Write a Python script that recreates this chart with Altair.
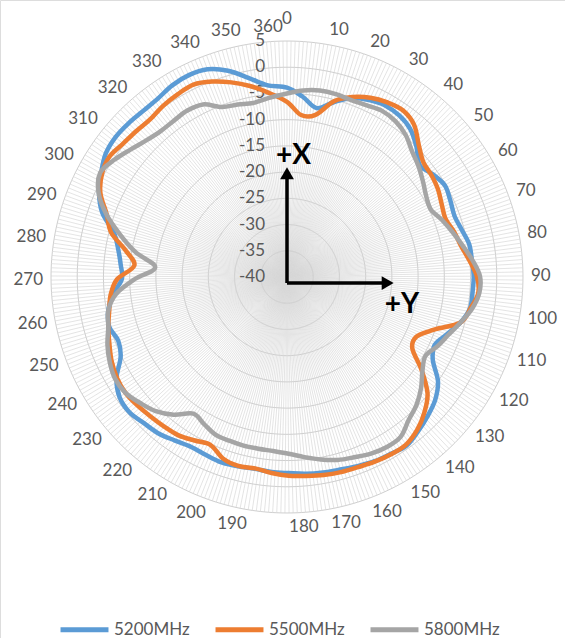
import altair as alt
import numpy as np
import pandas as pd

# ---- data -------------------------------------------------------------
N_CATS = 361                      # categories 0..360 around the radar
angles = list(range(0, 360, 5))   # sampled category positions

s5200 = [-3.9, -5.5, -7.3, -5.5, -3.7, -2.8, -2.3, -2.5, -3.3, -5.0,
         -6.9, -6.0, -5.2, -5.6, -6.0, -5.5, -4.7, -4.6, -4.4, -4.5,
         -4.6, -5.8, -7.6, -9.0, -8.0, -5.0, -3.3, -2.3, -1.4, -0.6,
         -0.9, -1.1, -1.5, -1.9, -2.1, -2.3, -2.6, -2.7, -2.9, -2.7,
         -2.5, -2.7, -2.8, -2.2, -1.4, -1.0, -0.4, -0.7, -2.2, -4.8,
         -5.6, -4.8, -5.3, -6.6, -8.5, -8.2, -7.4, -6.0, -2.7, -0.7,
         0.6, 1.8, 2.2, 2.1, 1.9, 2.0, 2.6, 2.8, 2.4, 0.9,
         -1.3, -3.2]

s5500 = [-6.6, -9.0, -8.6, -5.3, -3.5, -2.3, -1.6, -1.3, -2.2, -4.4,
         -6.0, -6.3, -6.7, -7.4, -7.8, -7.0, -6.3, -5.1, -3.8, -3.4,
         -4.5, -5.8, -10.2, -12.8, -12.5, -8.8, -5.2, -3.2, -1.7, -0.8,
         -0.8, -1.0, -1.3, -1.4, -1.6, -1.9, -2.1, -2.5, -3.0, -2.8,
         -3.3, -4.8, -4.2, -3.4, -3.1, -2.8, -2.4, -2.1, -2.3, -2.9,
         -3.8, -4.6, -5.5, -6.2, -7.6, -10.8, -8.9, -5.4, -3.6, -1.0,
         0.4, 0.9, 0.3, 0.0, -0.2, 0.3, 0.6, 0.8, -0.1, -1.4,
         -2.9, -4.6]

s5800 = [-5.0, -4.3, -3.9, -3.9, -4.1, -3.9, -3.5, -3.8, -4.7, -6.2,
         -7.2, -8.3, -9.3, -9.7, -8.5, -7.3, -6.0, -4.5, -3.2, -3.2,
         -4.2, -5.8, -7.3, -8.4, -9.6, -8.6, -6.8, -5.3, -4.2, -2.6,
         -2.4, -2.7, -3.3, -3.8, -4.6, -5.5, -6.3, -6.7, -6.8, -6.8,
         -6.9, -7.0, -7.8, -8.4, -6.0, -4.2, -3.1, -2.1, -1.9, -2.5,
         -3.4, -4.6, -5.3, -7.2, -11.0, -14.8, -10.8, -7.2, -3.5, -0.6,
         0.8, -0.2, -1.5, -2.6, -3.2, -3.2, -3.0, -3.4, -5.3, -5.8,
         -6.2, -5.7]

series_names = ["5200MHz", "5500MHz", "5800MHz"]
series_colors = ["#5B9BD5", "#ED7D31", "#A5A5A5"]

radial_ticks = [-40, -35, -30, -25, -20, -15, -10, -5, 0, 5]
ring_values = radial_ticks[1:]
angle_ticks = list(range(0, 361, 10))

# axis annotations: arrow corner / tips in radar units, and their captions
arrow_corner = (0.0, -1.15)
arrow_tips = [(0.0, 19.8), (19.2, -1.15)]
arrow_captions = [("+X", 1.25, 23.0), ("+Y", 21.9, -5.4)]

# ---- layout -----------------------------------------------------------
W, H = 565, 638
CX, CY = 287, 277          # pixel position of the radar centre
PX = 5.244                 # pixels per dB
R_MIN = -40
LABEL_R = 244 / PX
LABEL_LIFT = 6.5 / PX
TOP_LABEL_R = 258 / PX
FONT = "Lato"
TXT = "#595959"
GRID = "#D9D9D9"

xs = alt.Scale(domain=[-CX / PX, (W - CX) / PX], nice=False, zero=False)
ys = alt.Scale(domain=[-(H - CY) / PX, CY / PX], nice=False, zero=False)

THETA = f"datum.cat * 2 * PI / {N_CATS}"


def X(field):
    return alt.X(f"{field}:Q", scale=xs, axis=None)


def Y(field):
    return alt.Y(f"{field}:Q", scale=ys, axis=None)


# spokes
spoke_df = pd.DataFrame({"cat": np.arange(N_CATS)})
spokes = alt.Chart(spoke_df).transform_calculate(
    x0="0", y0="0",
    x1=f"{5 - R_MIN} * sin({THETA})",
    y1=f"{5 - R_MIN} * cos({THETA})",
).mark_rule(color=GRID, strokeWidth=0.7).encode(
    x=X("x0"), y=Y("y0"), x2="x1:Q", y2="y1:Q"
)

# rings
ring_df = pd.DataFrame(
    [(v, c) for v in ring_values for c in range(N_CATS)], columns=["ring", "cat"]
)
rings = alt.Chart(ring_df).transform_calculate(
    px=f"(datum.ring - {R_MIN}) * sin({THETA})",
    py=f"(datum.ring - {R_MIN}) * cos({THETA})",
).mark_line(interpolate="linear-closed", color="#CFCFCF", strokeWidth=1).encode(
    x=X("px"), y=Y("py"), detail="ring:N", order="cat:Q"
)

# series
rows = []
for name, vals in zip(series_names, [s5200, s5500, s5800]):
    for c, v in zip(angles, vals):
        rows.append({"series": name, "cat": c, "value": v})
line_df = pd.DataFrame(rows)

lines = alt.Chart(line_df).transform_calculate(
    px=f"(datum.value - {R_MIN}) * sin({THETA})",
    py=f"(datum.value - {R_MIN}) * cos({THETA})",
).mark_line(interpolate="cardinal-closed", strokeWidth=4.5).encode(
    x=X("px"),
    y=Y("py"),
    order="cat:Q",
    color=alt.Color(
        "series:N",
        scale=alt.Scale(domain=series_names, range=series_colors),
        legend=alt.Legend(
            title=None,
            orient="none",
            legendX=58,
            legendY=603,
            direction="horizontal",
            symbolType="stroke",
            symbolSize=2300,
            symbolStrokeWidth=5,
            labelFont=FONT,
            labelFontSize=17,
            labelColor=TXT,
            labelOffset=3,
            columnPadding=15,
        ),
    ),
)

# angle labels
ang_df = pd.DataFrame({"cat": angle_ticks, "label": [str(a) for a in angle_ticks]})
ang_base = alt.Chart(ang_df).transform_calculate(
    s=f"sin({THETA})",
    c=f"cos({THETA})",
)


def ang_layer(cond, align, r_x, r_y):
    return ang_base.transform_filter(cond).transform_calculate(
        px=f"{r_x} * datum.s",
        py=f"{r_y} * datum.c",
    ).mark_text(
        align=align, baseline="middle", font=FONT, fontSize=17, color=TXT
    ).encode(x=X("px"), y=Y("py"), text="label:N")


ang_right = ang_layer("datum.s > 1e-9", "left", LABEL_R, LABEL_R + LABEL_LIFT)
ang_left = ang_layer("datum.s < -1e-9", "right", LABEL_R, LABEL_R + LABEL_LIFT)
ang_top = ang_layer("abs(datum.s) <= 1e-9", "center", TOP_LABEL_R, TOP_LABEL_R)

# radial labels
rad_df = pd.DataFrame({"v": radial_ticks, "label": [str(v) for v in radial_ticks]})
rad_labels = alt.Chart(rad_df).transform_calculate(
    px=f"{-22 / PX}", py=f"datum.v - {R_MIN}"
).mark_text(align="right", baseline="middle", font=FONT, fontSize=17, color=TXT).encode(
    x=X("px"), y=Y("py"), text="label:N"
)

# arrows
shaft_df = pd.DataFrame(
    {"x0": [arrow_corner[0]] * 2, "y0": [arrow_corner[1]] * 2,
     "x1": [t[0] for t in arrow_tips], "y1": [t[1] for t in arrow_tips]}
)
shafts = alt.Chart(shaft_df).mark_rule(color="black", strokeWidth=3.5).encode(
    x=X("x0"), y=Y("y0"), x2="x1:Q", y2="y1:Q"
)
head_df = pd.DataFrame(
    {"px": [t[0] for t in arrow_tips], "py": [t[1] for t in arrow_tips],
     "shape": ["triangle-up", "triangle-right"]}
)
heads = alt.Chart(head_df).mark_point(filled=True, color="black", opacity=1, size=190).encode(
    x=X("px"), y=Y("py"),
    shape=alt.Shape("shape:N", scale=None, legend=None),
)
cap_df = pd.DataFrame(
    {"label": [c[0] for c in arrow_captions],
     "px": [c[1] for c in arrow_captions], "py": [c[2] for c in arrow_captions]}
)
captions = alt.Chart(cap_df).mark_text(
    font=FONT, fontSize=28, fontWeight="bold", color="black", baseline="middle"
).encode(x=X("px"), y=Y("py"), text="label:N")

chart = alt.layer(
    spokes, rings, rad_labels, lines, ang_right, ang_left, ang_top,
    shafts, heads, captions,
).properties(
    width=W, height=H, autosize=alt.AutoSizeParams(type="none"), padding=0
).configure_view(stroke=None).configure(background="white")

chart.save("out.html", embed_options={"renderer": "svg", "actions": False})
